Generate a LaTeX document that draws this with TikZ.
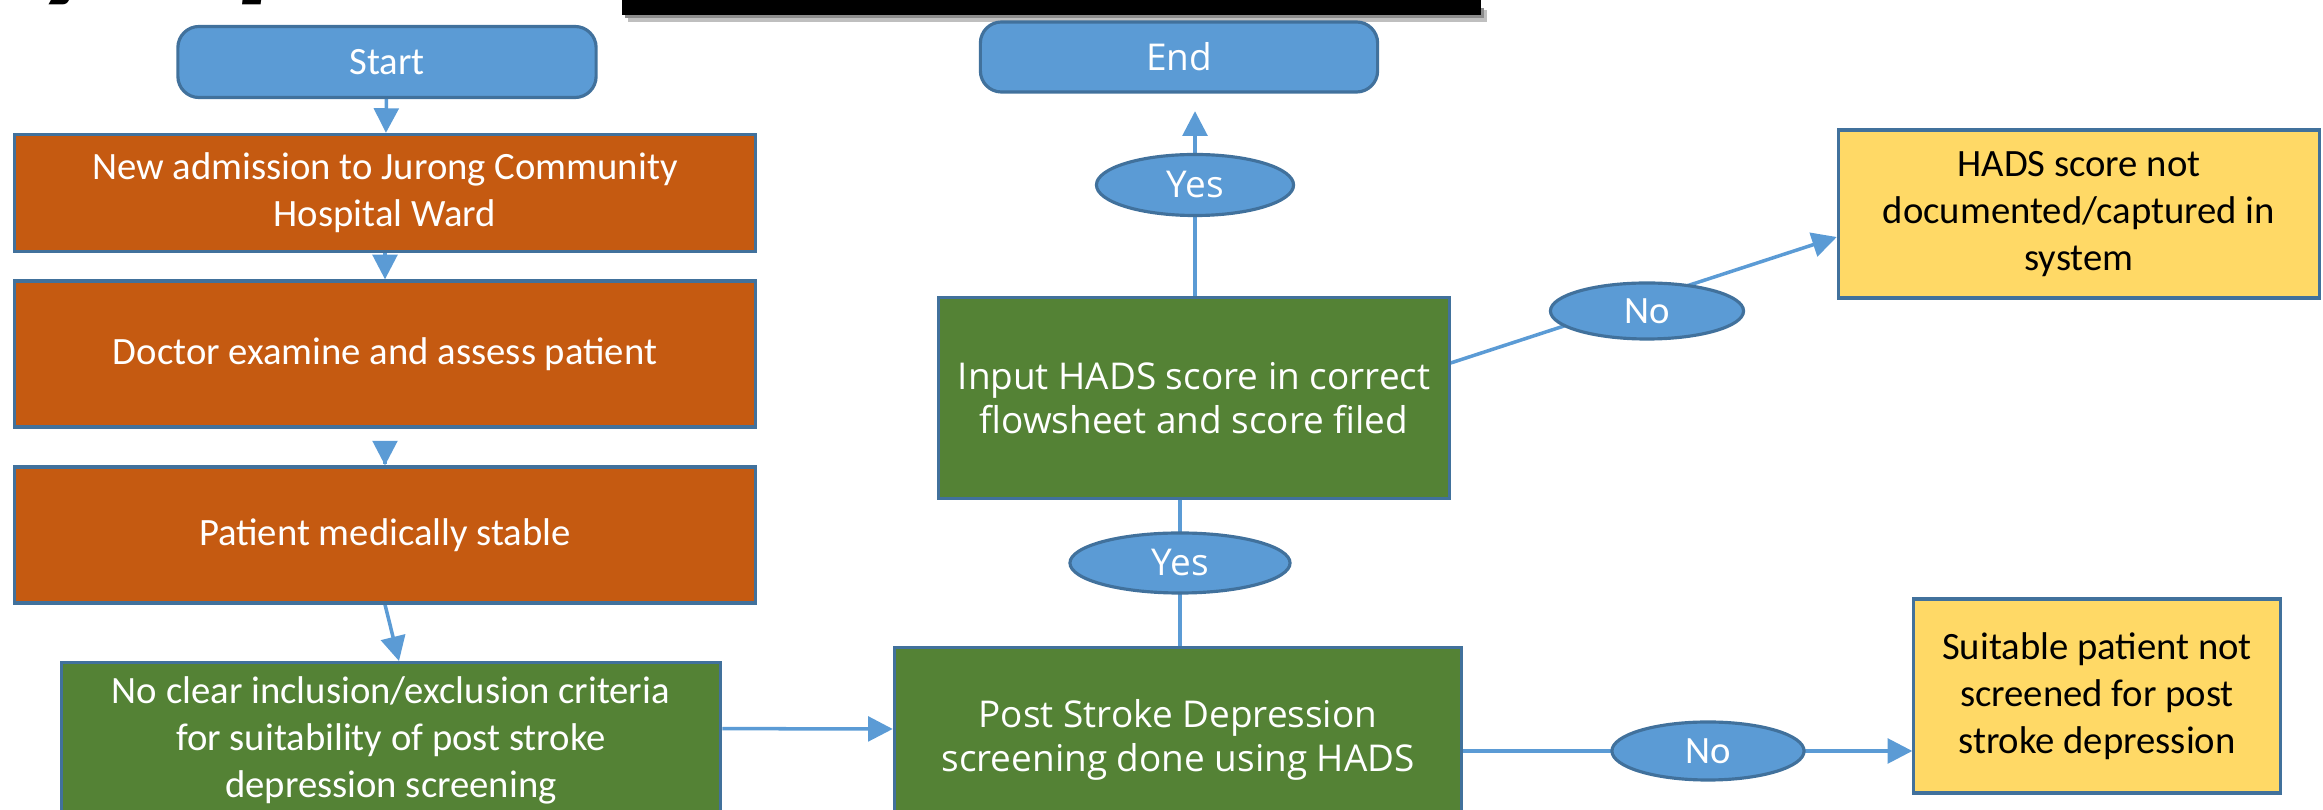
\documentclass[tikz,border=0pt]{standalone}
\usepackage{fontspec}
\setmainfont{Carlito}
\newfontfamily\segoe{Open Sans}
\usetikzlibrary{shapes.geometric,arrows.meta}

\definecolor{boxblue}{HTML}{5B9BD5}
\definecolor{edgeblue}{HTML}{41719C}
\definecolor{rust}{HTML}{C55A11}
\definecolor{leaf}{HTML}{548235}
\definecolor{butter}{HTML}{FFD966}

\pgfdeclarelayer{background}
\pgfsetlayers{background,main}

\tikzset{
  stepbox/.style={draw=edgeblue, line width=0.9pt, align=center, inner sep=0pt,
    font=\fontsize{11}{13.4}\selectfont},
  termbox/.style={stepbox, fill=boxblue, rounded corners=6pt, text=white},
  rustbox/.style={stepbox, fill=rust, text=white},
  leafbox/.style={stepbox, fill=leaf, text=white},
  widebox/.style={leafbox, font=\segoe\fontsize{10.5}{12.6}\selectfont},
  failbox/.style={stepbox, fill=butter, text=black},
  answer/.style={ellipse, draw=edgeblue, line width=0.9pt, fill=boxblue, text=white,
    inner sep=0pt, font=\fontsize{11}{13.4}\selectfont},
  wideanswer/.style={answer, font=\segoe\fontsize{10.5}{12.6}\selectfont},
  titlebit/.style={anchor=base, font=\fontsize{44}{44}\selectfont\bfseries\itshape},
  flow/.style={draw=boxblue, line width=1pt},
  flowarrow/.style={flow, -{Triangle[length=7pt,width=7pt]}}
}

\begin{document}
\begin{tikzpicture}[x=0.01cm,y=-0.01cm]
\useasboundingbox (0,0) rectangle (2323,810);

% title remains at the top edge
\node[titlebit] (titley) at (78,-19) {y};
\node[titlebit] (titlep) at (282,-19) {p};
\fill[black!25] (628,10) rectangle (1487,22);
\fill[black!45] (625,8) rectangle (1484,18);
\fill[black] (622,-10) rectangle (1481,15);

% left column
\node[termbox, minimum width=4.18cm, minimum height=0.71cm] (start) at (387,62) {Start};
\node[rustbox, minimum width=7.41cm, minimum height=1.17cm] (admit) at (385,193)
  {New admission to Jurong Community\\Hospital Ward};
\node[rustbox, minimum width=7.41cm, minimum height=1.46cm] (doctor) at (385,354)
  {Doctor examine and assess patient};
\node[rustbox, minimum width=7.41cm, minimum height=1.36cm] (stable) at (385,535)
  {Patient medically stable};
\node[leafbox, minimum width=6.59cm, minimum height=1.56cm, anchor=north] (criteria) at (391,661)
  {No clear inclusion/exclusion criteria\\for suitability of post stroke\\depression screening};

% middle column
\node[widebox, minimum width=5.67cm, minimum height=1.84cm, anchor=north] (screen) at (1178,646)
  {Post Stroke Depression\\screening done using HADS};
\node[widebox, minimum width=5.10cm, minimum height=2.01cm] (input) at (1194,398)
  {Input HADS score in correct\\flowsheet and score filed};
\node[termbox, font=\segoe\fontsize{10.5}{12.6}\selectfont, minimum width=3.97cm,
  minimum height=0.70cm] (finish) at (1179,57) {End};
\node[wideanswer, minimum width=1.97cm, minimum height=0.61cm] (yesup) at (1195,185) {Yes};
\node[wideanswer, minimum width=2.20cm, minimum height=0.60cm] (yeslow) at (1180,563) {Yes};

% right column
\node[answer, minimum width=1.93cm, minimum height=0.56cm] (noup) at (1647,311) {No};
\node[answer, minimum width=1.92cm, minimum height=0.58cm] (nolow) at (1708,751) {No};
\node[failbox, minimum width=4.81cm, minimum height=1.68cm] (notfiled) at (2079,214)
  {HADS score not\\documented/captured in\\system};
\node[failbox, minimum width=3.66cm, minimum height=1.94cm] (notscreened) at (2097,696)
  {Suitable patient not\\screened for post\\stroke depression};

% connectors
\begin{pgfonlayer}{background}
\draw[flowarrow] (start) -- (admit);
\draw[flowarrow] (admit) -- (doctor);
\draw[flowarrow, shorten <=10pt] (doctor) -- (stable);
\draw[flowarrow] (stable.south) -- ([xshift=0.08cm]criteria.north);
\draw[flowarrow] ([yshift=0.12cm]criteria.east) -- (screen.west |- 0,729);
\draw[flow] (screen.north -| yeslow) -- (input.south -| yeslow);
\draw[flow] (input.north -| yesup) -- (yesup.center);
\draw[flowarrow, shorten >=5pt] (yesup) -- (finish.south -| yesup);
\draw[flowarrow] ([yshift=0.35cm]input.east) -- ([yshift=-0.23cm]notfiled.west);
\draw[flowarrow] (screen.east |- nolow) -- (notscreened.west |- nolow);
\end{pgfonlayer}
\end{tikzpicture}
\end{document}
